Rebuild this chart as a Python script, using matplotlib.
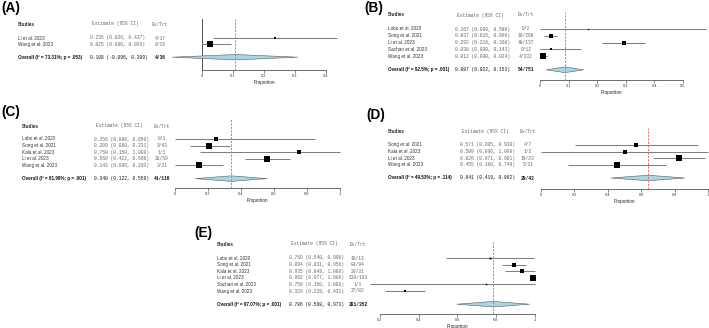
import matplotlib
matplotlib.use("Agg")
import numpy as np
import matplotlib.pyplot as plt
from matplotlib.patches import Polygon
from matplotlib.transforms import blended_transform_factory

W, H = 709, 328

# (A)
a_studies = ["Li et al. 2023", "Wang et al. 2023"]
a_est = [0.235, 0.025]
a_lo = [0.036, 0.000]
a_hi = [0.437, 0.093]
a_ev = [4, 0]
a_n = [17, 19]
a_wt = [13, 87]
a_pool = [0.108, -0.096, 0.309]
a_het = ["73.31%", ".053"]
a_ticks = [0, 0.1, 0.2, 0.3, 0.4]

# (B)
b_studies = ["Lobo et al. 2020", "Song et al. 2021", "Li et al. 2023", "Sachan et al. 2023", "Wang et al. 2023"]
b_est = [0.167, 0.037, 0.292, 0.038, 0.012]
b_lo = [0.000, 0.015, 0.216, 0.000, 0.000]
b_hi = [0.580, 0.060, 0.368, 0.143, 0.024]
b_ev = [0, 10, 40, 0, 4]
b_n = [2, 268, 137, 12, 332]
b_wt = [2, 30, 12, 10, 46]
b_pool = [0.087, 0.022, 0.153]
b_het = ["92.5%", ".001"]
b_ticks = [0, 0.1, 0.2, 0.3, 0.4, 0.5]

# (C)
c_studies = ["Lobo et al. 2020", "Song et al. 2021", "Kala et al. 2023", "Li et al. 2023", "Wang et al. 2023"]
c_est = [0.250, 0.209, 0.750, 0.560, 0.143]
c_lo = [0.000, 0.088, 0.150, 0.422, 0.000]
c_hi = [0.850, 0.331, 1.000, 0.698, 0.293]
c_ev = [0, 9, 1, 28, 3]
c_n = [1, 43, 1, 50, 21]
c_wt = [9, 30, 8, 31, 22]
c_pool = [0.340, 0.122, 0.559]
c_het = ["81.99%", ".001"]
c_ticks = [0, 0.2, 0.4, 0.6, 0.8, 1.0]

# (D)
d_studies = ["Song et al. 2021", "Kala et al. 2023", "Li et al. 2023", "Wang et al. 2023"]
d_est = [0.571, 0.500, 0.826, 0.455]
d_lo = [0.205, 0.000, 0.671, 0.160]
d_hi = [0.938, 1.000, 0.981, 0.749]
d_ev = [4, 1, 19, 5]
d_n = [7, 2, 23, 11]
d_wt = [18, 14, 40, 28]
d_pool = [0.641, 0.419, 0.862]
d_het = ["49.53%", ".114"]
d_ticks = [0, 0.2, 0.4, 0.6, 0.8, 1.0]

# (E)
e_studies = ["Lobo et al. 2020", "Song et al. 2021", "Kala et al. 2023", "Li et al. 2023",
             "Sachan et al. 2023", "Wang et al. 2023"]
e_est = [0.769, 0.894, 0.935, 0.992, 0.750, 0.329]
e_lo = [0.540, 0.831, 0.849, 0.977, 0.150, 0.228]
e_hi = [0.998, 0.956, 1.000, 1.000, 1.000, 0.431]
e_ev = [10, 84, 29, 130, 1, 27]
e_n = [13, 94, 31, 131, 1, 82]
e_wt = [5, 18, 18, 50, 3, 6]
e_pool = [0.786, 0.598, 0.973]
e_het = ["97.07%", ".001"]
e_ticks = [0.2, 0.4, 0.6, 0.8, 1.0]

SANS = "Liberation Sans"
MONO = "Liberation Mono"
FS = 3.35


def forest(fig, label, studies, est, lo, hi, ev, n, wt, pool, het, ticks, lay, zero_line=False):
    x0, k = lay["zero"], lay["scale"]
    left = x0 + k * ticks[0]
    right = x0 + k * ticks[-1]
    ax = fig.add_axes([left / W, 1 - lay["axis"] / H, (right - left) / W,
                       (lay["axis"] - lay["top"]) / H])
    r0, dy = lay["row0"], lay["dy"]
    ax.set_xlim(ticks[0], ticks[-1])
    ax.set_ylim((lay["axis"] - r0) / dy, (lay["top"] - r0) / dy)

    rows = np.arange(len(studies))
    wt = np.asarray(wt, float)
    # square side grows with sqrt of the study weight, largest ~6 px
    sides = 6.0 * np.sqrt(wt / wt.max()) * 72 / 100
    for i in rows:
        ax.plot([lo[i], hi[i]], [i, i], color="#808080", lw=0.75, clip_on=False,
                solid_capstyle="butt", zorder=2)
        ax.plot(est[i], i, marker="s", ms=sides[i], color="black", mew=0, clip_on=False, zorder=3)

    yp = len(studies) + 1
    p_est, p_lo, p_hi = pool
    dh = 0.42
    ax.add_patch(Polygon([[p_lo, yp], [p_est, yp - dh], [p_hi, yp], [p_est, yp + dh]],
                         closed=True, facecolor="#a9d6e5", edgecolor="#5a5a5a", lw=0.4,
                         clip_on=False, zorder=3))
    ax.axvline(p_est, color="#f06a6a", lw=0.7, ls=(0, (2.2, 1.4)), zorder=4)
    if zero_line:
        ax.axvline(0, color="#333333", lw=0.6, zorder=1)

    for s in ["top", "right", "left"]:
        ax.spines[s].set_visible(False)
    ax.spines["bottom"].set_bounds(ticks[0], ticks[-1])
    ax.spines["bottom"].set_linewidth(0.6)
    ax.spines["bottom"].set_color("#555555")
    ax.set_yticks([])
    ax.set_xticks(ticks)
    ax.set_xticklabels([f"{t:g}" for t in ticks], fontsize=2.8, family=SANS, color="#333333")
    ax.tick_params(axis="x", length=2, width=0.5, color="#555555", pad=1.2)
    ax.set_xlabel("Proportion", fontsize=FS, family=SANS, labelpad=1.2, color="#222222")
    ax.patch.set_alpha(0)

    tr = blended_transform_factory(fig.transFigure, ax.transData)
    hy = (lay["head"] - r0) / dy
    nx, ex, vx = lay["name"] / W, lay["est"] / W, lay["evt"] / W
    ax.text(nx, hy, "Studies", transform=tr, fontsize=FS, family=SANS, weight="bold",
            va="center", color="#222222")
    ax.text(ex + 2 / W, hy, "Estimate (95% CI)", transform=tr, fontsize=FS, family=MONO,
            va="center", color="#666666")
    ax.text(vx, hy, "Ev/Trt", transform=tr, fontsize=FS, family=MONO, va="center",
            ha="center", color="#666666")
    for i in rows:
        ax.text(nx, i, studies[i], transform=tr, fontsize=FS, family=SANS, va="center",
                color="#333333")
        ax.text(ex, i, f"{est[i]:.3f} ({lo[i]:.3f}, {hi[i]:.3f})", transform=tr, fontsize=FS,
                family=MONO, va="center", color="#666666")
        ax.text(vx, i, f"{ev[i]}/{n[i]}", transform=tr, fontsize=FS, family=MONO,
                va="center", ha="center", color="#666666")
    ax.text(nx, yp, f"Overall (I\u00b2 = {het[0]}; p = {het[1]})", transform=tr, fontsize=FS,
            family=SANS, weight="bold", va="center", color="#111111")
    ax.text(ex, yp, f"{p_est:.3f} ({p_lo:.3f}, {p_hi:.3f})", transform=tr, fontsize=FS,
            family=MONO, va="center", color="#111111")
    ax.text(vx, yp, f"{sum(ev)}/{sum(n)}", transform=tr, fontsize=FS, family=MONO,
            weight="bold", va="center", ha="center", color="#111111")

    fig.text(lay["lab"][0] / W, 1 - lay["lab"][1] / H, label, fontsize=9.8, family=SANS,
             weight="bold", va="top", ha="left")


fig = plt.figure(figsize=(W / 100, H / 100), dpi=100)

forest(fig, "(A)", a_studies, a_est, a_lo, a_hi, a_ev, a_n, a_wt, a_pool, a_het, a_ticks,
       dict(zero=202, scale=310, axis=70, top=19, row0=38, dy=6.4, head=24,
            name=18, est=90, evt=160, lab=(1, 1)), zero_line=True)
forest(fig, "(B)", b_studies, b_est, b_lo, b_hi, b_ev, b_n, b_wt, b_pool, b_het, b_ticks,
       dict(zero=540, scale=286, axis=80, top=12, row0=29, dy=6.8, head=15,
            name=388, est=455, evt=526, lab=(364, 1)))
forest(fig, "(C)", c_studies, c_est, c_lo, c_hi, c_ev, c_n, c_wt, c_pool, c_het, c_ticks,
       dict(zero=175, scale=165, axis=188, top=118, row0=139, dy=6.6, head=126,
            name=22, est=94, evt=162, lab=(1, 105)))
forest(fig, "(D)", d_studies, d_est, d_lo, d_hi, d_ev, d_n, d_wt, d_pool, d_het, d_ticks,
       dict(zero=541, scale=167, axis=189, top=128, row0=145, dy=6.6, head=132,
            name=388, est=460, evt=528, lab=(366, 108)))
forest(fig, "(E)", e_studies, e_est, e_lo, e_hi, e_ev, e_n, e_wt, e_pool, e_het, e_ticks,
       dict(zero=341, scale=193.75, axis=314, top=242, row0=258, dy=6.6, head=244,
            name=217, est=289, evt=358, lab=(194, 226)))

fig.savefig("out.png", dpi=100)
